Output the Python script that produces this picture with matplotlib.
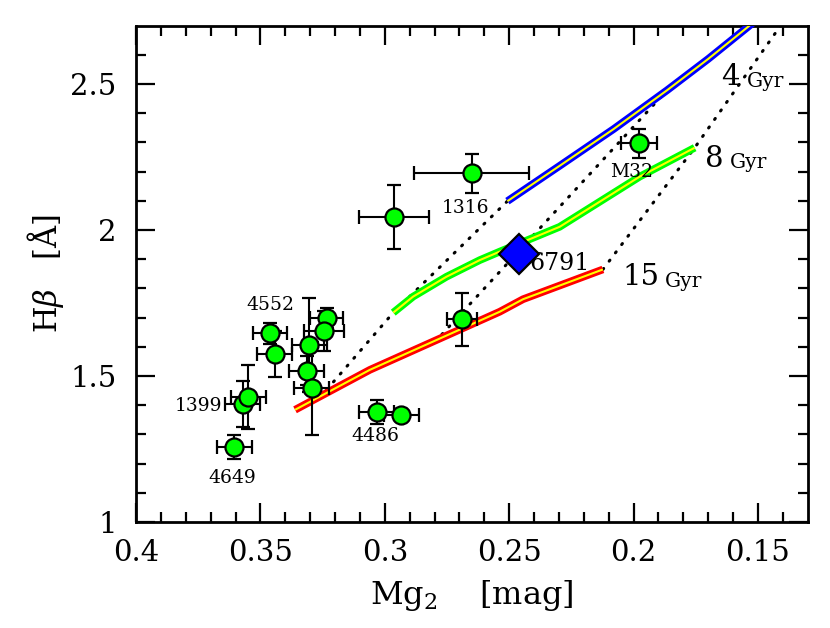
import matplotlib
matplotlib.use("Agg")
import matplotlib.pyplot as plt

plt.rcParams['font.family'] = ['DejaVu Serif']
plt.rcParams['mathtext.fontset'] = 'dejavuserif'

# galaxies: Mg2 [mag], Hbeta [A] and their errors
mg2 = [0.3606, 0.3571, 0.3549, 0.3462, 0.3442, 0.3304, 0.3314, 0.3294,
       0.3234, 0.3243, 0.3032, 0.2933, 0.2691, 0.2651, 0.2962, 0.1979]
hbeta = [1.257, 1.404, 1.427, 1.646, 1.575, 1.606, 1.518, 1.458,
         1.698, 1.655, 1.377, 1.366, 1.694, 2.194, 2.046, 2.297]
mg2_err = [0.007, 0.007, 0.007, 0.007, 0.007, 0.007, 0.007, 0.007,
           0.0067, 0.008, 0.007, 0.007, 0.006, 0.023, 0.014, 0.0072]
hbeta_err = [0.041, 0.08, 0.11, 0.036, 0.078, 0.16, 0.05, 0.16,
             0.035, 0.068, 0.04, 0.02, 0.09, 0.068, 0.11, 0.049]

# NGC 6791
mg2_6791 = [0.246]
hbeta_6791 = [1.917]

# model sequences at 4, 8 and 15 Gyr
mg2_4gyr = [0.2507, 0.2297, 0.2080, 0.1865, 0.1700, 0.1540, 0.1480]
hb_4gyr = [2.099, 2.220, 2.346, 2.479, 2.586, 2.696, 2.738]
mg2_8gyr = [0.2966, 0.2886, 0.2752, 0.2618, 0.2538, 0.2297, 0.1975, 0.1754]
hb_8gyr = [1.717, 1.772, 1.840, 1.897, 1.926, 2.011, 2.183, 2.282]
mg2_15gyr = [0.3361, 0.3060, 0.2538, 0.2444, 0.2123]
hb_15gyr = [1.384, 1.521, 1.720, 1.763, 1.865]

# dotted lines joining the ages
mg2_dotA = [0.3261, 0.2966, 0.2507]
hb_dotA = [1.426, 1.717, 2.099]
mg2_dotB = [0.2799, 0.2461, 0.1865]
hb_dotB = [1.616, 1.928, 2.479]
mg2_dotC = [0.2123, 0.1754, 0.1413, 0.1334]
hb_dotC = [1.865, 2.282, 2.695, 2.790]

fig = plt.figure(figsize=(8.3, 6.28), dpi=100)
axes = fig.add_axes([0.164, 0.169, 0.809, 0.790])

for xs, ys in [(mg2_dotA, hb_dotA), (mg2_dotB, hb_dotB), (mg2_dotC, hb_dotC)]:
    axes.plot(xs, ys, color='black', lw=2.2, linestyle=(0, (0.4, 3.0)),
              dash_capstyle='round', zorder=2)

for xs, ys, c in [(mg2_4gyr, hb_4gyr, '#0000ff'), (mg2_8gyr, hb_8gyr, '#00ff00'),
                  (mg2_15gyr, hb_15gyr, '#ff0000')]:
    axes.plot(xs, ys, color=c, lw=5.5, solid_capstyle='butt', zorder=3)
    axes.plot(xs, ys, color='#ffff00', lw=1.5, solid_capstyle='butt', zorder=3)

axes.errorbar(mg2, hbeta, xerr=mg2_err, yerr=hbeta_err, fmt='o', ms=13,
              mfc='#00ff00', mec='black', mew=1.6, ecolor='black',
              elinewidth=1.5, capsize=5, capthick=1.5, zorder=4)
axes.plot(mg2_6791, hbeta_6791, 'D', ms=20, mfc='#0000ff', mec='black',
          mew=1.6, zorder=5)

axes.text(0.3614, 1.151, '4649', fontsize=13.5, ha='center', va='center')
axes.text(0.3654, 1.397, '1399', fontsize=13.5, ha='right', va='center')
axes.text(0.3462, 1.743, '4552', fontsize=13.5, ha='center', va='center')
axes.text(0.3040, 1.295, '4486', fontsize=13.5, ha='center', va='center')
axes.text(0.2674, 2.075, '1316', fontsize=13.5, ha='center', va='center')
axes.text(0.2007, 2.199, 'M32', fontsize=13.5, ha='center', va='center')
axes.text(0.2417, 1.885, '6791', fontsize=17, ha='left', va='center')

axes.text(0.1646, 2.497, '4', fontsize=21, ha='left', va='baseline')
axes.text(0.1545, 2.490, 'Gyr', fontsize=14.5, ha='left', va='baseline')
axes.text(0.1714, 2.216, '8', fontsize=21, ha='left', va='baseline')
axes.text(0.1614, 2.212, 'Gyr', fontsize=14.5, ha='left', va='baseline')
axes.text(0.2043, 1.812, '15', fontsize=21, ha='left', va='baseline')
axes.text(0.1875, 1.805, 'Gyr', fontsize=14.5, ha='left', va='baseline')

axes.set_xlim(0.4, 0.13)
axes.set_ylim(1.0, 2.7)
axes.set_xticks([0.4, 0.35, 0.3, 0.25, 0.2, 0.15])
axes.set_xticklabels(['0.4', '0.35', '0.3', '0.25', '0.2', '0.15'])
axes.set_yticks([1, 1.5, 2, 2.5])
axes.set_yticklabels(['1', '1.5', '2', '2.5'])
axes.set_xticks([0.39, 0.38, 0.37, 0.36, 0.34, 0.33, 0.32, 0.31, 0.29, 0.28,
                 0.27, 0.26, 0.24, 0.23, 0.22, 0.21, 0.19, 0.18, 0.17, 0.16,
                 0.14], minor=True)
axes.set_yticks([1.1, 1.2, 1.3, 1.4, 1.6, 1.7, 1.8, 1.9, 2.1, 2.2, 2.3, 2.4,
                 2.6], minor=True)
axes.tick_params(which='both', direction='in', top=True, right=True,
                 labelsize=21, width=1.6)
axes.tick_params(which='major', length=14)
axes.tick_params(which='minor', length=7)
axes.tick_params(axis='x', pad=12)
axes.tick_params(axis='y', pad=14)
for s in axes.spines.values():
    s.set_linewidth(2)

axes.set_xlabel(r'Mg$_2$    [mag]', fontsize=23, labelpad=8)
axes.set_ylabel(r'H$\beta$   [Å]', fontsize=22, labelpad=3)

fig.savefig('out.png', dpi=100)
